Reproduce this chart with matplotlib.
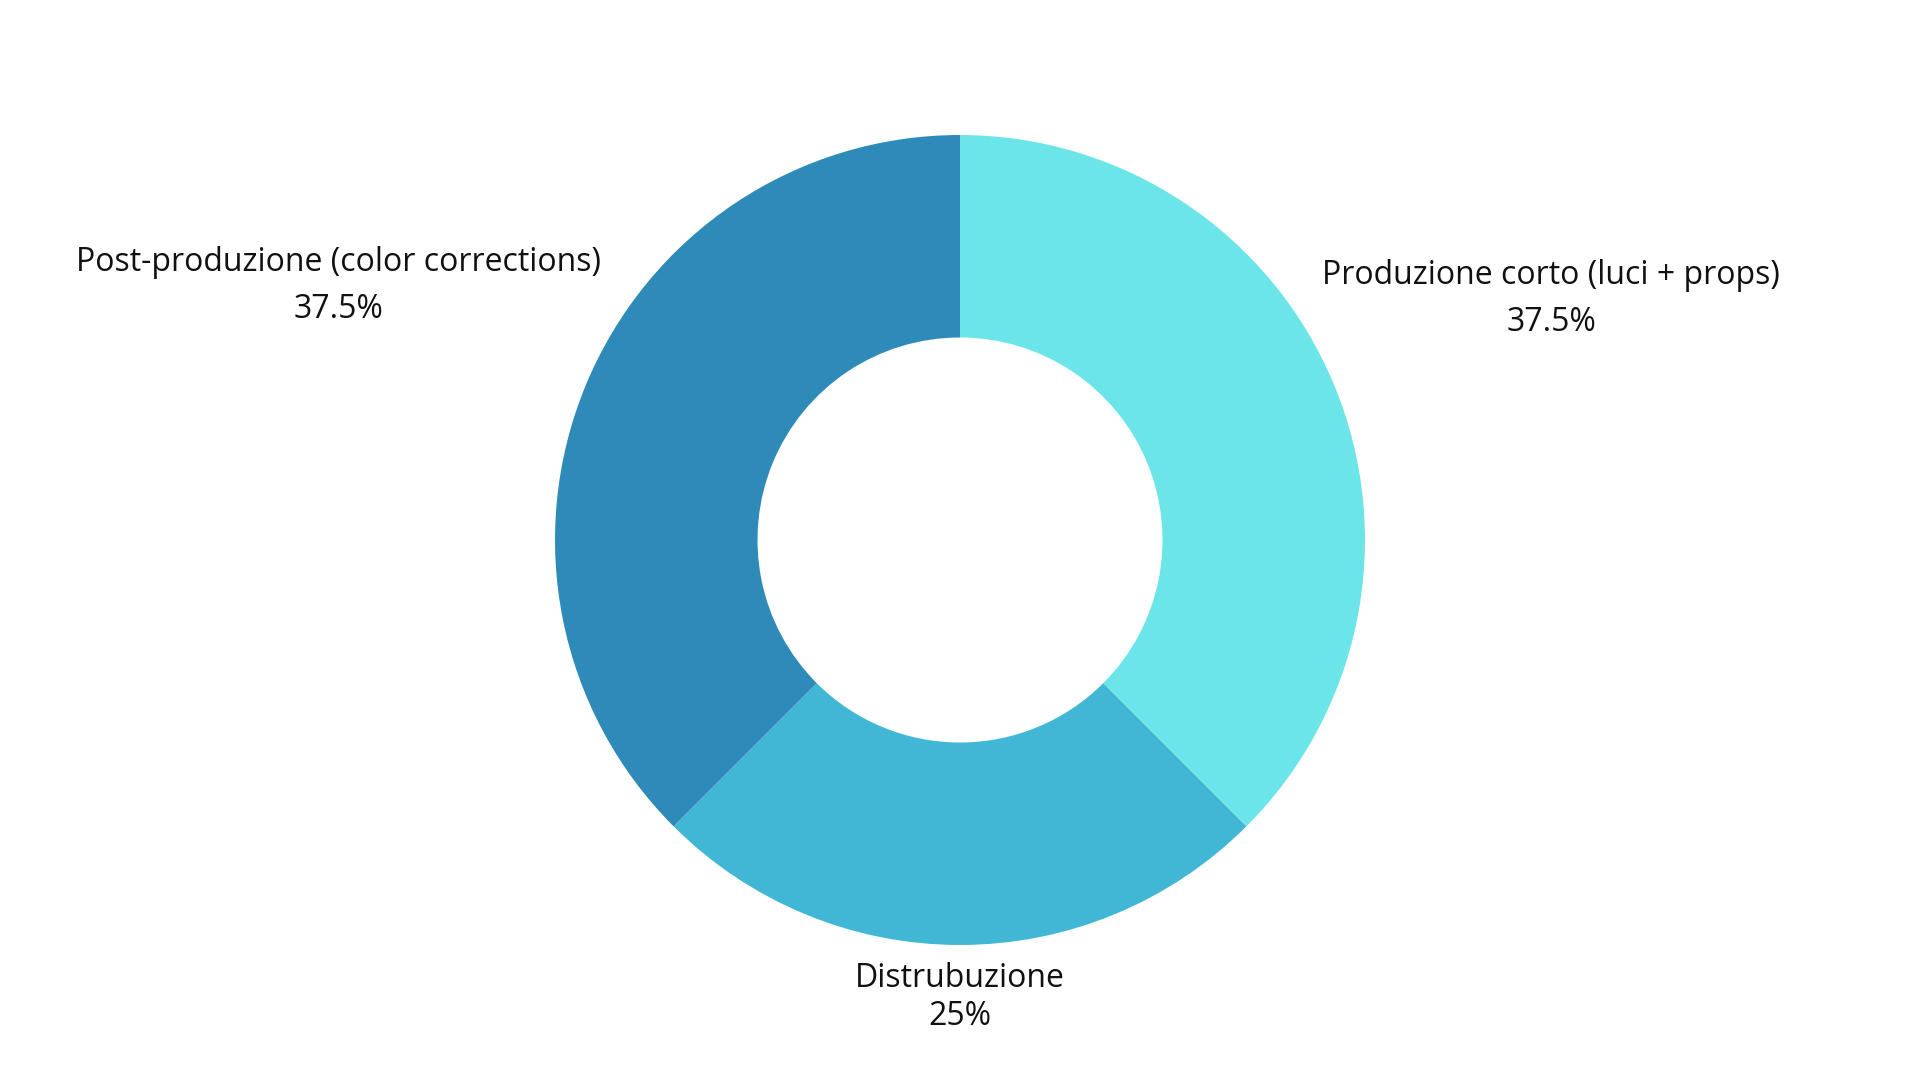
import numpy as np
import matplotlib.pyplot as plt

# slices in drawing order (clockwise from 12 o'clock)
labels = ['Produzione corto (luci + props)', 'Distrubuzione', 'Post-produzione (color corrections)']
values = [37.5, 25, 37.5]
pct_text = ['37.5%', '25%', '37.5%']
colors = ['#6ce5e8', '#42b7d5', '#2e8bb9']

# distance of each label block from the centre (in radii) and line gap
label_dist = [1.58, 1.12, 1.66]
line_gap = [0.116, 0.094, 0.116]

plt.rcParams['font.family'] = ['Open Sans', 'DejaVu Sans']

fig = plt.figure(figsize=(19.2, 10.8), dpi=100)
ax = fig.add_axes([0, 0, 1, 1])

R = 405.0  # outer radius in pixels
wedges, _ = ax.pie(values, colors=colors, startangle=90, counterclock=False,
                   radius=1, wedgeprops=dict(width=0.5, linewidth=0))

for w, name, pct, d, g in zip(wedges, labels, pct_text, label_dist, line_gap):
    mid = np.deg2rad((w.theta1 + w.theta2) / 2)
    x = d * np.cos(mid)
    y = d * np.sin(mid) - 0.009
    ax.text(x, y + g / 2, name, ha='center', va='center', fontsize=23, color='#111111')
    ax.text(x, y - g / 2, pct, ha='center', va='center', fontsize=23, color='#111111')

ax.set_xlim(-960 / R, 960 / R)
ax.set_ylim(-540 / R, 540 / R)
ax.set_aspect('equal')
ax.axis('off')

plt.savefig('out.png', dpi=100, facecolor='white')
plt.close()
